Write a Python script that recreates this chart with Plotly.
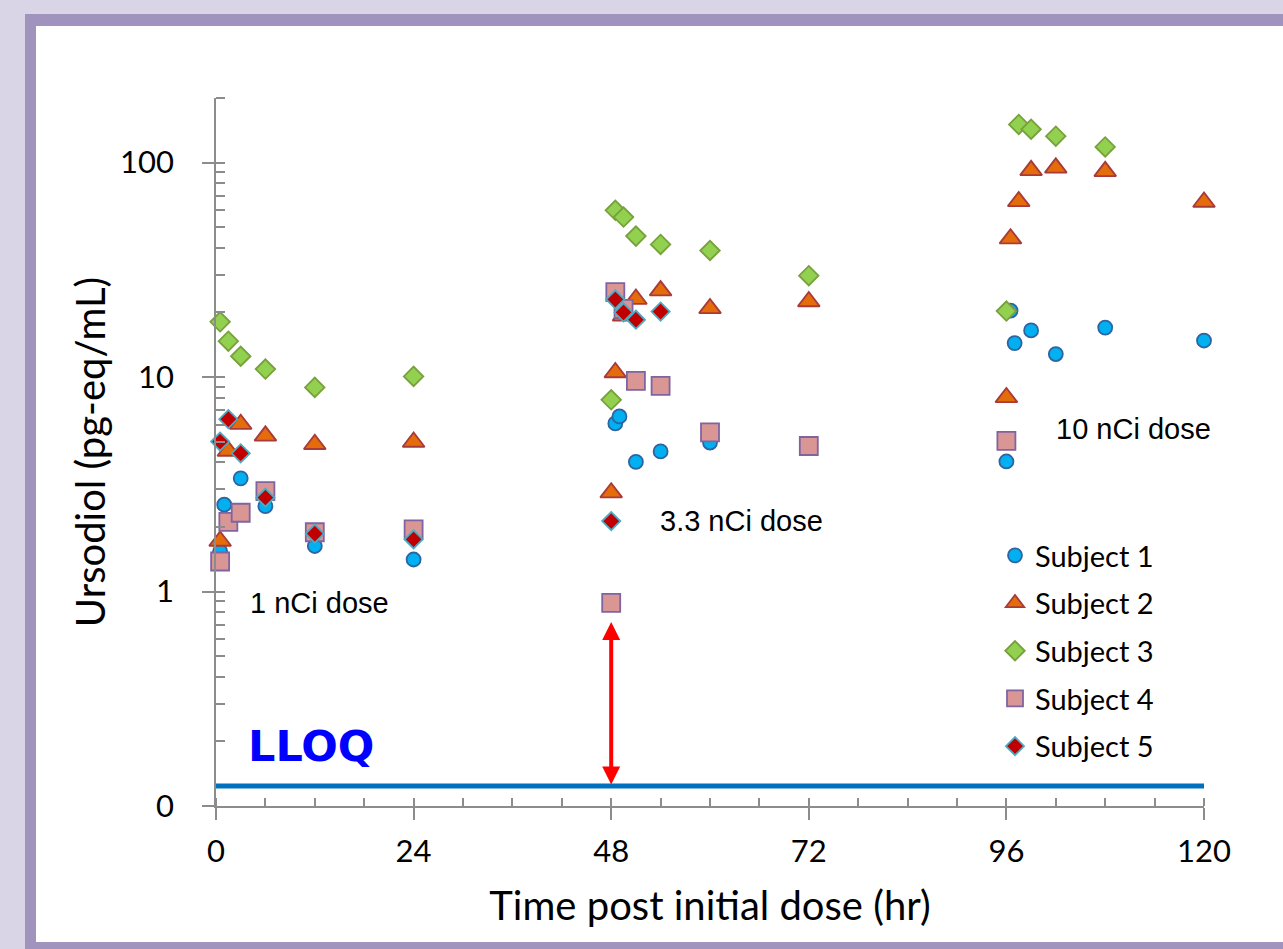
import math
import plotly.graph_objects as go

# ---------------- data ----------------
SUBJECTS = ["Subject 1", "Subject 2", "Subject 3", "Subject 4", "Subject 5"]

s1_t = [0.5, 1, 3, 6, 12, 24, 48, 48.5, 49, 51, 54, 60, 96, 96.5, 97, 99, 102, 108, 120]
s1_y = [1.54, 2.54, 3.37, 2.50, 1.63, 1.41, 0.90, 6.08, 6.55, 4.02, 4.5, 4.95, 4.04, 20.4, 14.4, 16.5, 12.8, 17.0, 14.8]

s2_t = [0.5, 1.5, 3, 6, 12, 24, 48, 48.5, 49.5, 51, 54, 60, 72, 96, 96.5, 97.5, 99, 102, 108, 120]
s2_y = [1.72, 4.52, 6.03, 5.32, 4.86, 4.98, 2.89, 10.5, 19.3, 23.1, 25.3, 20.9, 22.5, 8.04, 44.2, 65.9, 92, 94.5, 91, 65.5]

s3_t = [0.5, 1.5, 3, 6, 12, 24, 48, 48.5, 49.5, 51, 54, 60, 72, 96, 97.5, 99, 102, 108]
s3_y = [18.1, 14.7, 12.5, 10.9, 8.95, 10.07, 7.83, 59.9, 55.7, 45.4, 41.5, 38.9, 29.7, 20.3, 150.6, 143, 132.7, 118.3]

s4_t = [0.5, 1.5, 3, 6, 12, 24, 48, 48.5, 49.5, 51, 54, 60, 72, 96]
s4_y = [1.38, 2.11, 2.33, 2.94, 1.89, 1.95, 0.886, 24.9, 20.8, 9.6, 9.1, 5.52, 4.77, 5.04]

s5_t = [0.5, 1.5, 3, 6, 12, 24, 48, 48.5, 49.5, 51, 54]
s5_y = [5.0, 6.36, 4.41, 2.74, 1.86, 1.75, 2.13, 23.0, 20.0, 18.5, 20.2]

LLOQ = 0.124
LLOQ_X = [0, 120]
ARROW_X = 48
ARROW_TOP = 0.72

x_tickvals = [0, 24, 48, 72, 96, 120]
x_ticktext = ["0", "24", "48", "72", "96", "120"]
y_tickvals = [0.1, 1, 10, 100]
y_ticktext = ["0", "1", "10", "100"]

dose_labels = ["1 nCi dose", "3.3 nCi dose", "10 nCi dose"]
dose_label_x = [3.9, 53.7, 101.8]
dose_label_y = [0.888, 2.13, 5.7]

# ---------------- styles ----------------
styles = [
    dict(symbol="circle", size=14, color="#00B0F0", line=dict(color="#2E64A0", width=1.8)),
    dict(symbol="triangle-up", size=19, color="#E46C0A", line=dict(color="#A83A3A", width=1.8)),
    dict(symbol="diamond", size=15, color="#92D050", line=dict(color="#78A03C", width=1.8)),
    dict(symbol="square", size=18, color="#D99694", line=dict(color="#7F64A2", width=1.8)),
    dict(symbol="diamond", size=14, color="#C00000", line=dict(color="#4BACC6", width=1.8)),
]
series = [(s1_t, s1_y), (s2_t, s2_y), (s3_t, s3_y), (s4_t, s4_y), (s5_t, s5_y)]

fig = go.Figure()

# LLOQ line
fig.add_trace(go.Scatter(x=LLOQ_X, y=[LLOQ, LLOQ], mode="lines",
                         line=dict(color="#0070C0", width=5), showlegend=False,
                         hoverinfo="skip"))

for name, (tx, ty), st in zip(SUBJECTS, series, styles):
    fig.add_trace(go.Scatter(x=tx, y=ty, mode="markers", name=name, legendgroup=name,
                             marker=st, cliponaxis=False))

# dummy trace for overlay axes (inside halves of major ticks)
fig.add_trace(go.Scatter(x=[], y=[], xaxis="x2", yaxis="y2", showlegend=False))

TICK_FONT = dict(family="Lato", size=31, color="black")
TITLE_FONT = dict(family="Lato", size=40, color="black")
AX_COL = "#8C8C8C"

y_minor = [k * 10 ** d for d in range(-1, 3) for k in range(2, 10) if k * 10 ** d <= 200]

W, H = 1283, 949
L, R, T, B = 216, 79, 98, 143
PW, PH = W - L - R, H - T - B


def px(xp):
    return (xp - L) / PW


def py(yp):
    return (H - B - yp) / PH


shapes = [
    dict(type="rect", xref="paper", yref="paper", x0=px(25), x1=px(1300), y0=py(14), y1=py(960),
         fillcolor="#A094BF", line=dict(width=0), layer="below"),
    dict(type="rect", xref="paper", yref="paper", x0=px(36), x1=px(1300), y0=py(26), y1=py(942),
         fillcolor="white", line=dict(width=0), layer="below"),
]

annotations = []
for txt, ax_, ay_ in zip(dose_labels, dose_label_x, dose_label_y):
    annotations.append(dict(x=ax_, y=math.log10(ay_), xref="x", yref="y", text=txt, showarrow=False,
                            xanchor="left", yanchor="middle",
                            font=dict(family="Liberation Sans", size=29, color="black")))
annotations.append(dict(x=3.6, y=math.log10(0.19), xref="x", yref="y", text="<b>LLOQ</b>",
                        showarrow=False, xanchor="left", yanchor="middle",
                        font=dict(family="DejaVu Sans", size=43, color="#0000FF")))
annotations.append(dict(x=ARROW_X, y=math.log10(ARROW_TOP), ax=ARROW_X, ay=math.log10(LLOQ),
                        xref="x", yref="y", axref="x", ayref="y", text="", showarrow=True,
                        arrowhead=2, startarrowhead=2, arrowside="end+start",
                        arrowsize=0.9, startarrowsize=0.9, arrowwidth=4, arrowcolor="#FF0000"))

fig.update_layout(
    width=W, height=H,
    margin=dict(l=L, r=R, t=T, b=B, pad=0),
    paper_bgcolor="#D9D5E7",
    plot_bgcolor="rgba(0,0,0,0)",
    shapes=shapes,
    annotations=annotations,
    showlegend=True,
    legend=dict(x=px(995), y=py(530), xanchor="left", yanchor="top",
                font=dict(family="Lato", size=29, color="black"),
                bgcolor="rgba(0,0,0,0)", tracegroupgap=7, itemsizing="trace"),
    xaxis=dict(range=[0, 120], tickvals=x_tickvals, ticktext=x_ticktext,
               ticks="outside", ticklen=12, tickwidth=1.5, tickcolor=AX_COL,
               minor=dict(dtick=6, tick0=0, ticks="inside", ticklen=8, tickwidth=1.5, tickcolor=AX_COL),
               showline=True, linecolor=AX_COL, linewidth=1.5, showgrid=False, zeroline=False,
               tickfont=TICK_FONT, ticklabelstandoff=5,
               title=dict(text="Time post initial dose (hr)", font=TITLE_FONT, standoff=24)),
    yaxis=dict(type="log", range=[-1, math.log10(200)], tickvals=y_tickvals, ticktext=y_ticktext,
               ticks="outside", ticklen=12, tickwidth=1.5, tickcolor=AX_COL,
               minor=dict(tickvals=y_minor, ticks="inside", ticklen=9, tickwidth=1.5, tickcolor=AX_COL),
               showline=True, linecolor=AX_COL, linewidth=1.5, showgrid=False, zeroline=False,
               tickfont=TICK_FONT, ticklabelstandoff=22,
               title=dict(text="Ursodiol (pg-eq/mL)", font=TITLE_FONT, standoff=2)),
    xaxis2=dict(overlaying="x", anchor="y", side="bottom", range=[0, 120], tickvals=x_tickvals,
                ticks="inside", ticklen=8, tickwidth=1.5, tickcolor=AX_COL, showticklabels=False,
                showline=False, showgrid=False, zeroline=False),
    yaxis2=dict(overlaying="y", anchor="x", side="left", type="log", range=[-1, math.log10(200)],
                tickvals=y_tickvals, ticks="inside", ticklen=9, tickwidth=1.5, tickcolor=AX_COL,
                showticklabels=False, showline=False, showgrid=False, zeroline=False),
)

fig.write_html("out.html", post_script="document.body.style.margin='0px';",
               config={"displayModeBar": False})
